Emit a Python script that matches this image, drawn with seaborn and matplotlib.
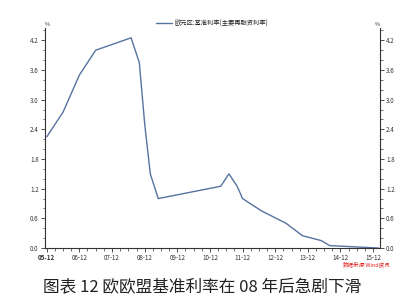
import matplotlib
matplotlib.use("Agg")
import matplotlib.pyplot as plt
import matplotlib.dates as mdates
from matplotlib.ticker import MultipleLocator
import seaborn as sns
import pandas as pd

dates = ["2005-12-01", "2006-06-01", "2006-12-01", "2007-06-01", "2008-07-01",
         "2008-10-01", "2008-12-01", "2009-02-01", "2009-05-01", "2011-04-01",
         "2011-07-01", "2011-10-01", "2011-12-01", "2012-07-01", "2013-04-01",
         "2013-10-01", "2014-05-01", "2014-08-01", "2016-02-01"]
rates = [2.25, 2.75, 3.50, 4.00, 4.25,
         3.75, 2.50, 1.50, 1.00, 1.25,
         1.50, 1.25, 1.00, 0.75, 0.50,
         0.25, 0.15, 0.05, 0.00]
series_name = "欧元区:基准利率(主要再融资利率)"
tick_years = list(range(2005, 2016))
y_ticks = [0.0, 0.6, 1.2, 1.8, 2.4, 3.0, 3.6, 4.2]
caption = "图表 12 欧欧盟基准利率在 08 年后急剧下滑"
source = "数据来源:Wind资讯"

df = pd.DataFrame({"date": pd.to_datetime(dates), "rate": rates})

sns.set_style("white")
plt.rcParams['font.family'] = ['Noto Sans CJK SC', 'DejaVu Sans']

fig = plt.figure(figsize=(4.05, 3.07), dpi=100)
ax = fig.add_axes([0.111, 0.192, 0.827, 0.717])
sns.lineplot(data=df, x="date", y="rate", ax=ax, color="#56729f", linewidth=1.0,
             label=series_name, legend=False)

ax.set_xlim(pd.Timestamp("2005-11-10"), pd.Timestamp("2016-02-15"))
ax.set_ylim(0, 4.45)
ax.set_yticks(y_ticks)
ax.set_yticklabels([f"{v:.1f}" for v in y_ticks])
ax.yaxis.set_minor_locator(MultipleLocator(0.2))

xt = [pd.Timestamp(f"{y}-12-01") for y in tick_years]
ax.set_xticks(xt)
ax.set_xticklabels([t.strftime("%y-%m") for t in xt])
ax.xaxis.set_minor_locator(mdates.MonthLocator(bymonth=[3, 6, 9, 12]))
ax.get_xticklabels()[0].set_fontweight("bold")

ax.set_xlabel("")
ax.set_ylabel("")
for s in ["left", "right", "bottom"]:
    ax.spines[s].set_visible(True)
    ax.spines[s].set_color("#333333")
    ax.spines[s].set_linewidth(0.8)
ax.spines["top"].set_visible(False)

ax.tick_params(axis="both", which="major", direction="out", length=3, width=0.6,
               labelsize=4.5, colors="#333333", pad=1.5)
ax.tick_params(axis="both", which="minor", direction="out", length=1.8, width=0.5,
               colors="#333333")
ax.tick_params(axis="y", which="both", left=True, right=True, labelleft=True, labelright=True)
ax.tick_params(axis="x", which="both", bottom=True)
ax.grid(False)

ax.text(0.0, 1.005, "%", transform=ax.transAxes, fontsize=4, ha="left", va="bottom", color="#333333")
ax.text(1.0, 1.005, "%", transform=ax.transAxes, fontsize=4, ha="right", va="bottom", color="#333333")

leg = ax.legend(loc="center", bbox_to_anchor=(0.5, 1.02), frameon=False,
                fontsize=4.5, handlelength=2.5, handletextpad=0.4, borderaxespad=0,
                borderpad=0)

fig.text(0.965, 0.138, source, color="#e0201b", fontsize=4, style="italic", ha="right", va="center")
fig.text(0.50, 0.062, caption, fontsize=12, ha="center", va="center", color="#222222")

fig.savefig("out.png", dpi=100)
